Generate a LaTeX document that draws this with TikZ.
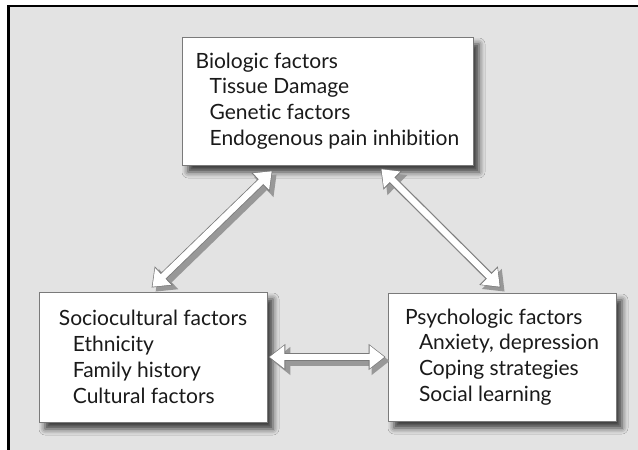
\documentclass[tikz,border=0pt]{standalone}
\usepackage{fontspec}
\setmainfont{Lato}[Ligatures=NoCommon]
\usetikzlibrary{arrows.meta,shadows,shadows.blur,calc}
\definecolor{bggray}{HTML}{E3E3E3}
\definecolor{edgegray}{HTML}{7A7A7A}
\definecolor{shgray}{HTML}{989898}
\definecolor{txt}{HTML}{1A1A1A}
\tikzset{
  factorbox/.style={draw=edgegray, line width=0.8pt, fill=white, align=left,
    font=\fontsize{21}{25.8}\selectfont, text=txt, inner sep=0pt,
    blur shadow={shadow xshift=6pt, shadow yshift=-7pt, shadow blur radius=6pt, shadow opacity=75}},
  arrowshadow/.style={line width=9pt, draw=shgray, line cap=butt,
    {Triangle[length=18pt,width=27pt]}-{Triangle[length=18pt,width=27pt]},
    transform canvas={xshift=4pt,yshift=-4pt}},
  arrowouter/.style={line width=8pt, draw=edgegray,
    {Triangle[length=17pt,width=25pt]}-{Triangle[length=17pt,width=25pt]}},
  arrowinner/.style={line width=6.4pt, draw=white,
    {Triangle[length=14.8pt,width=22pt]}-{Triangle[length=14.8pt,width=22pt]},
    shorten >=1.2pt, shorten <=1.2pt}
}
\newcommand{\ind}{\hspace*{14pt}}
\begin{document}
\begin{tikzpicture}[x=1pt,y=-1pt]
\useasboundingbox (0,0) rectangle (638,450);
\fill[white] (0,0) rectangle (638,450);
\fill[bggray] (8,6) rectangle (638,450);
\draw[black, line width=2.6pt] (8.7,450) -- (8.7,6) -- (638,6);

\node[factorbox, minimum width=291pt, minimum height=128pt] (bio) at (327.5,101)
  {Biologic factors\\\ind Tissue Damage\\\ind Genetic factors\\\ind Endogenous pain inhibition};
\node[factorbox, minimum width=228pt, minimum height=130pt] (socio) at (153,357)
  {Sociocultural factors\\\ind Ethnicity\\\ind Family history\\\ind Cultural factors};
\node[factorbox, minimum width=228pt, minimum height=128pt] (psych) at (502,357)
  {Psychologic factors\\\ind Anxiety, depression\\\ind Coping strategies\\\ind Social learning};

\coordinate (a1) at ($(bio.south west)+(91,5)$);
\coordinate (a2) at ($(socio.north west)+(113,-4)$);
\coordinate (b1) at ($(bio.south west)+(199,3)$);
\coordinate (b2) at ($(psych.north west)+(113,-5)$);
\coordinate (c1) at ($(socio.east)+(1,0)$);
\coordinate (c2) at ($(psych.west)+(-2,0)$);

\foreach \p/\q in {a1/a2,b1/b2,c1/c2}{
  \draw[arrowshadow] (\p) -- (\q);
}
\foreach \p/\q in {a1/a2,b1/b2,c1/c2}{
  \draw[arrowouter] (\p) -- (\q);
  \draw[arrowinner] (\p) -- (\q);
}
\end{tikzpicture}
\end{document}
